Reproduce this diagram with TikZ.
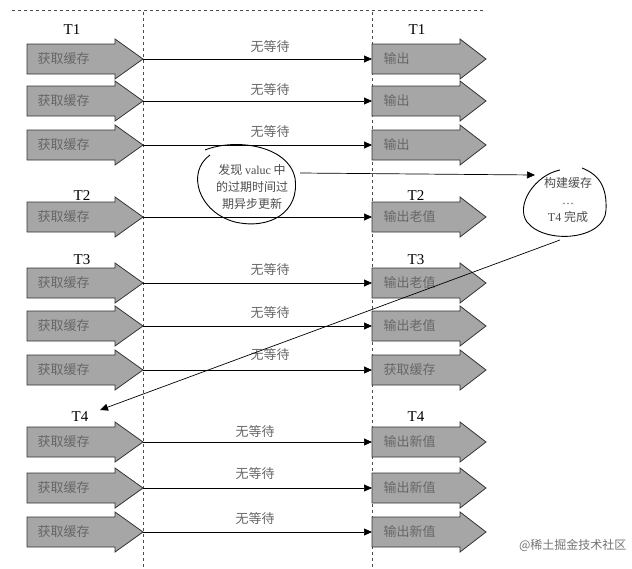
\documentclass[tikz,border=0pt]{standalone}
\usepackage{fontspec}
\setmainfont{Liberation Serif}
\newfontfamily\cjk{Noto Sans CJK SC}
\usetikzlibrary{arrows.meta}
\begin{document}
\begin{tikzpicture}[x=1pt,y=-1pt,
 fatbox/.style={draw=black!80,fill=black!35,line width=0.8pt},
 lbl/.style={font=\cjk\fontsize{13}{15}\selectfont,text=black!60},
 tl/.style={font=\fontsize{15}{17}\selectfont},
 bub/.style={font=\cjk\fontsize{12}{17}\selectfont,text=black!70,align=center,inner sep=0pt},
 con/.style={-{Triangle[length=8pt,width=7pt]},line width=0.7pt},
 vd/.style={dashed,black!70,line width=0.6pt}]
\useasboundingbox (0,0) rectangle (632,568);
\draw[vd] (12,10) -- (485,10);
\draw[vd] (143,12) -- (143,568);
\draw[vd] (372,12) -- (372,568);
\foreach \y/\n in {59/a,101/b,145/c,217/d,283/e,326/f,370/g,442/h,488/i,532/j}{
  \draw[fatbox] (27,\y-15) -- (115,\y-15) -- (115,\y-20) -- (143,\y) -- (115,\y+20) -- (115,\y+15) -- (27,\y+15) -- cycle;
  \node[lbl,anchor=west] (L\n) at (34,\y) {获取缓存};
}
\foreach \y/\n/\t in {59/a/输出,101/b/输出,145/c/输出,217/d/输出老值,283/e/输出老值,326/f/输出老值,370/g/获取缓存,442/h/输出新值,488/i/输出新值,532/j/输出新值}{
  \draw[fatbox] (372,\y-15) -- (460,\y-15) -- (460,\y-20) -- (486,\y) -- (460,\y+20) -- (460,\y+15) -- (372,\y+15) -- cycle;
  \node[lbl,anchor=west] (R\n) at (380,\y) {\t};
}
\foreach \n in {a,b,c,d,e,f,g,h,i,j}{\draw[con] (143,0 |- L\n.center) -- (372,0 |- R\n.center);}
\foreach \n/\y in {a/47,b/90,c/132,e/270,f/313,g/355}{\node[lbl] (w\n) at (270,\y) {无等待};}
\foreach \n/\y in {h/432,i/474,j/519}{\node[lbl] (w\n) at (255,\y) {无等待};}
\node[tl] (t1a) at (72,30) {T1};
\node[tl] (t1b) at (417,30) {T1};
\node[tl] (t2a) at (82,196) {T2};
\node[tl] (t2b) at (416,196) {T2};
\node[tl] (t3a) at (82,260) {T3};
\node[tl] (t3b) at (416,260) {T3};
\node[tl] (t4a) at (80,417) {T4};
\node[tl] (t4b) at (416,417) {T4};
\node[bub] (b1) at (252,187) {发现 {\rmfamily valuc} 中\\的过期时间过\\期异步更新};
\draw[line width=0.9pt] (205,150) .. controls (235,138) and (288,145) .. (295,178) .. controls (300,212) and (270,230) .. (235,222) .. controls (198,212) and (186,172) .. (210,155);
\node[bub] (b2) at (568,200) {构建缓存\\{\rmfamily\ldots}\\{\rmfamily T4} 完成};
\draw[line width=0.9pt] (560,170) .. controls (535,175) and (515,205) .. (527,222) .. controls (545,245) and (605,240) .. (606,210) .. controls (607,188) and (600,175) .. (582,168);
\coordinate (e1) at (300,173);
\draw[con] (e1) -- (535,175);
\coordinate (e2) at (560,240);
\draw[con] (e2) -- (100,410);
\node[font=\cjk\fontsize{12}{14}\selectfont,text=black!55,anchor=east] (wm) at (630,545) {@稀土掘金技术社区};
\end{tikzpicture}
\end{document}
